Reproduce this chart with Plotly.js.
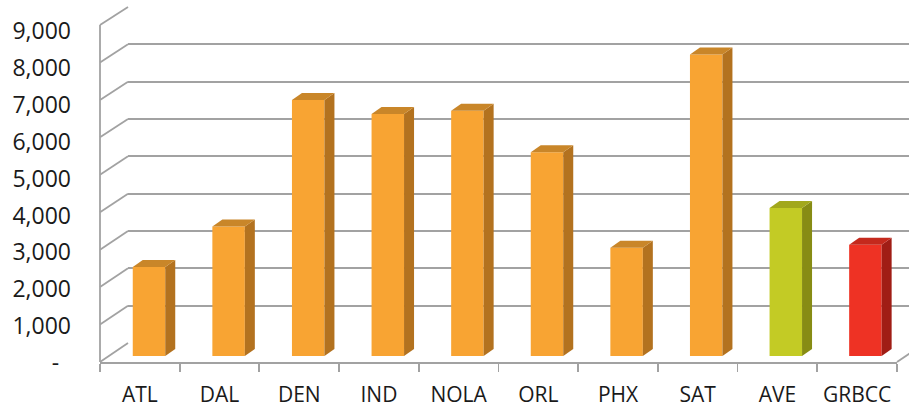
<!DOCTYPE html>
<html>
<head>
<meta charset="utf-8">
<script src="https://cdn.plot.ly/plotly-3.0.1.min.js"></script>
<style>html,body{margin:0;padding:0;background:#fff;}#chart{width:909px;height:407px;}</style>
</head>
<body>
<div id="chart"></div>
<script>
// ---- data ----
const categories = ['ATL', 'DAL', 'DEN', 'IND', 'NOLA', 'ORL', 'PHX', 'SAT', 'AVE', 'GRBCC'];
const values = [2380, 3460, 6840, 6460, 6550, 5440, 2890, 8050, 3950, 2970];
const yTickVals = [0, 1000, 2000, 3000, 4000, 5000, 6000, 7000, 8000, 9000];
const yTickText = ['-\u00a0\u00a0', '1,000', '2,000', '3,000', '4,000', '5,000', '6,000', '7,000', '8,000', '9,000'];

// ---- style ----
const palette = {
  city:   {front: '#F8A433', side: '#B3721F', top: '#C98629'},
  AVE:    {front: '#C3CB25', side: '#878C14', top: '#A2A81C'},
  GRBCC:  {front: '#EE3224', side: '#A01D15', top: '#C4291D'}
};
const colorOf = c => palette[c] || palette.city;
const gridColor = '#a2a2a2';
const FONT = 'Open Sans, Lato, sans-serif';

// ---- geometry (pixels) ----
const W = 909, H = 407;
const front = {left: 100, right: 897, y0: 362, yTop: 25};
const back = {dx: 28, y0: 343, yTop: 7};
const labelBand = {y0: 363, yTop: 31};
const plane = {c0: 149, step: 79.6, y0: 356};
const pxPerUnit = (front.y0 - front.yTop) / 9000;
const barW = 0.408, hw = barW / 2;
const depthPx = {dx: 10, dy: 7};
const dxD = depthPx.dx / plane.step, dyD = depthPx.dy / pxPerUnit;

const px = x => x / W;
const py = y => (H - y) / H;

const traces = [];
// front axes holder
traces.push({type: 'scatter', x: categories, y: values, xaxis: 'x', yaxis: 'y',
  mode: 'markers', marker: {opacity: 0}, hoverinfo: 'skip', showlegend: false});
// back wall holder
traces.push({type: 'scatter', x: [0], y: [0], xaxis: 'x2', yaxis: 'y2',
  mode: 'markers', marker: {opacity: 0}, hoverinfo: 'skip', showlegend: false});
// bar front faces
const idx = categories.map((c, i) => i);
traces.push({type: 'bar', x: idx, y: values, xaxis: 'x3', yaxis: 'y3', width: barW,
  marker: {color: categories.map(c => colorOf(c).front), line: {width: 0}},
  hoverinfo: 'skip', showlegend: false});
// side and top faces
categories.forEach((c, i) => {
  const v = values[i];
  const col = colorOf(c);
  traces.push({type: 'scatter', xaxis: 'x3', yaxis: 'y3', mode: 'lines', fill: 'toself',
    x: [i + hw, i + hw + dxD, i + hw + dxD, i + hw, i + hw],
    y: [0, dyD, v + dyD, v, 0],
    fillcolor: col.side, line: {width: 0, color: col.side}, hoverinfo: 'skip', showlegend: false});
  traces.push({type: 'scatter', xaxis: 'x3', yaxis: 'y3', mode: 'lines', fill: 'toself',
    x: [i - hw, i - hw + dxD, i + hw + dxD, i + hw, i - hw],
    y: [v, v + dyD, v + dyD, v, v],
    fillcolor: col.top, line: {width: 0, color: col.top}, hoverinfo: 'skip', showlegend: false});
});

// frame lines (side wall and floor)
const yf = v => front.y0 - v * (front.y0 - front.yTop) / 9000;
const yb = v => back.y0 - v * (back.y0 - back.yTop) / 9000;
const shapes = [];
const seg = (x0, y0, x1, y1) => shapes.push({type: 'line', xref: 'paper', yref: 'paper', layer: 'below',
  x0: px(x0), y0: py(y0), x1: px(x1), y1: py(y1), line: {color: gridColor, width: 1.8}});
yTickVals.forEach(v => seg(front.left, yf(v), front.left + back.dx, yb(v)));
seg(front.left, front.yTop, front.left, front.y0);
seg(front.right, front.y0, front.right + back.dx, back.y0);

const layout = {
  width: W, height: H,
  margin: {l: 0, r: 0, t: 0, b: 0},
  paper_bgcolor: '#ffffff', plot_bgcolor: 'rgba(0,0,0,0)',
  showlegend: false,
  font: {family: FONT, size: 21, color: '#1a1a1a'},
  xaxis: {type: 'category', categoryarray: categories, range: [-0.5, 9.5], autorange: false,
    domain: [px(front.left), px(front.right)], anchor: 'free', position: py(front.y0),
    showline: true, linecolor: gridColor, linewidth: 1.8, showgrid: false, zeroline: false,
    tickson: 'boundaries', ticks: 'outside', ticklen: 8, tickwidth: 1.8, tickcolor: gridColor,
    ticklabelstandoff: 13,
    tickfont: {family: FONT, size: 21, color: '#1a1a1a'}, fixedrange: true},
  yaxis: {range: [0, 9000], autorange: false, domain: [py(labelBand.y0), py(labelBand.yTop)],
    anchor: 'free', position: px(front.left), showline: false, showgrid: false, zeroline: false,
    tickmode: 'array', tickvals: yTickVals, ticktext: yTickText, ticks: '',
    ticklabelstandoff: 29, tickfont: {family: FONT, size: 23, color: '#1a1a1a'}, fixedrange: true},
  xaxis2: {range: [-0.5, -0.5 + (W - front.left - back.dx) / plane.step], autorange: false,
    domain: [px(front.left + back.dx), 1], anchor: 'y2', visible: false, fixedrange: true},
  yaxis2: {range: [-12, 9012], autorange: false,
    domain: [py(back.y0 + 12 * pxPerUnit), py(back.yTop - 12 * pxPerUnit)], anchor: 'x2',
    showgrid: true, gridcolor: gridColor, gridwidth: 1.8, zeroline: false, showline: false,
    tickmode: 'array', tickvals: yTickVals, showticklabels: false, ticks: '', fixedrange: true},
  xaxis3: {range: [-0.5, 9.5], autorange: false,
    domain: [px(plane.c0 - plane.step / 2), px(plane.c0 - plane.step / 2 + 10 * plane.step)],
    anchor: 'y3', visible: false, fixedrange: true},
  yaxis3: {range: [0, 9000], autorange: false,
    domain: [py(plane.y0), py(plane.y0 - 9000 * pxPerUnit)], anchor: 'x3', visible: false, fixedrange: true},
  shapes: shapes
};

Plotly.newPlot('chart', traces, layout, {displayModeBar: false, staticPlot: true});
</script>
</body>
</html>
